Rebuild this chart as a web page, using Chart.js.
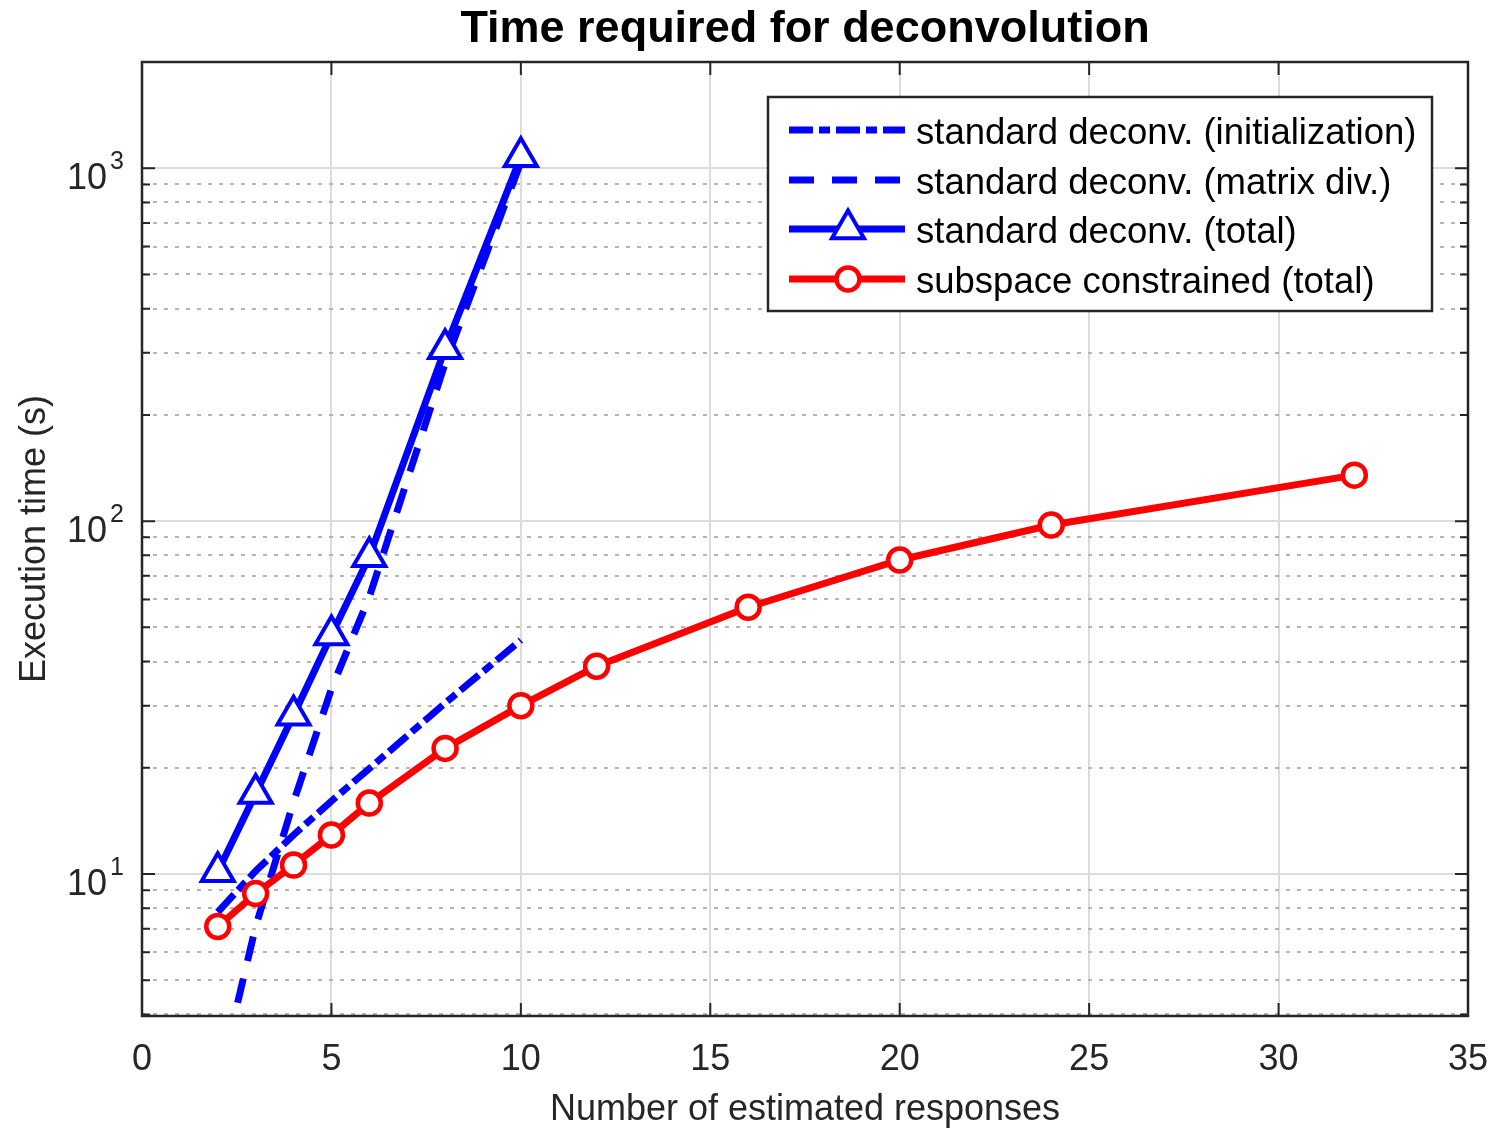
<!DOCTYPE html>
<html>
<head>
<meta charset="utf-8">
<title>Time required for deconvolution</title>
<script src="https://cdn.jsdelivr.net/npm/chart.js@4.4.1/dist/chart.umd.min.js"></script>
<style>
  html, body { margin: 0; padding: 0; background: #fff; }
  #wrap { width: 1497px; height: 1128px; }
</style>
</head>
<body>
<div id="wrap"><canvas id="chart" width="1497" height="1128"></canvas></div>
<script>
// ============================
// Data
// ============================
const stdX      = [2, 3, 4, 5, 6, 8, 10];
const stdInit   = [7.8, 10.2, 12.9, 16.1, 19.9, 30.5, 46];
const stdMatrix = [2.5, 7.1, 16, 33.5, 61, 280, 1040];
const stdTotal  = [10.15, 16.9, 28.2, 47.6, 79.3, 308, 1077];

const subX     = [2, 3, 4, 5, 6, 8, 10, 12, 16, 20, 24, 32];
const subTotal = [7.1, 8.8, 10.6, 12.9, 15.9, 22.7, 30.0, 38.8, 57.0, 77.6, 97.5, 135];

const xTicks   = [0, 5, 10, 15, 20, 25, 30, 35];
const yDecades = [10, 100, 1000];
const yGrid    = [4, 5, 6, 7, 8, 9, 10, 20, 30, 40, 50, 60, 70, 80, 90,
                  100, 200, 300, 400, 500, 600, 700, 800, 900, 1000, 2000];

const legendLabels = [
    "standard deconv. (initialization)",
    "standard deconv. (matrix div.)",
    "standard deconv. (total)",
    "subspace constrained (total)"
];

const FONT = '"Liberation Sans", Arial, Helvetica, sans-serif';
const BLUE = "#0000ff", RED = "#ff0000", AXIS = "#262626";
const isMajor = v => Math.abs(Math.log10(v) - Math.round(Math.log10(v))) < 1e-9;
const pts = (xs, ys) => xs.map((x, i) => ({ x, y: ys[i] }));

// datasets: index 0 is drawn on top
const dsSub = {
    data: pts(subX, subTotal), borderColor: RED, borderWidth: 7,
    pointStyle: "circle", pointRadius: 11.5, pointBorderWidth: 4.5,
    pointBackgroundColor: "#fff", pointBorderColor: RED
};
const dsTotal = {
    data: pts(stdX, stdTotal), borderColor: BLUE, borderWidth: 7,
    pointStyle: "triangle", pointRadius: 18.5, pointBorderWidth: 4,
    pointBackgroundColor: "#fff", pointBorderColor: BLUE
};
const dsMatrix = {
    data: pts(stdX, stdMatrix), borderColor: BLUE, borderWidth: 7,
    borderDash: [25, 18], pointRadius: 0
};
const dsInit = {
    data: pts(stdX, stdInit), borderColor: BLUE, borderWidth: 7,
    borderDash: [24, 6, 11, 6], pointRadius: 0
};
const legendSets = [dsInit, dsMatrix, dsTotal, dsSub];

// ============================
// MATLAB-like box, ticks, labels, legend
// ============================
const matlabAxes = {
    id: "matlabAxes",
    afterDraw(chart) {
        const { ctx, chartArea: a, scales: { x, y } } = chart;
        ctx.save();

        // frame
        ctx.strokeStyle = AXIS; ctx.lineWidth = 2.5; ctx.setLineDash([]);
        ctx.strokeRect(a.left, a.top, a.right - a.left, a.bottom - a.top);

        // inward ticks
        ctx.lineWidth = 2;
        ctx.beginPath();
        xTicks.forEach(v => {
            const px = x.getPixelForValue(v);
            ctx.moveTo(px, a.bottom); ctx.lineTo(px, a.bottom - 13);
            ctx.moveTo(px, a.top); ctx.lineTo(px, a.top + 13);
        });
        yGrid.forEach(v => {
            const py = y.getPixelForValue(v);
            const len = isMajor(v) ? 13 : 8;
            ctx.moveTo(a.left, py); ctx.lineTo(a.left + len, py);
            ctx.moveTo(a.right, py); ctx.lineTo(a.right - len, py);
        });
        ctx.stroke();

        // y tick labels 10^n
        ctx.fillStyle = AXIS;
        yDecades.forEach(d => {
            const py = y.getPixelForValue(d);
            ctx.font = `36px ${FONT}`; ctx.textAlign = "right"; ctx.textBaseline = "alphabetic";
            ctx.fillText("10", 107, py + 21);
            ctx.font = `25px ${FONT}`; ctx.textAlign = "left";
            ctx.fillText(String(Math.round(Math.log10(d))), 110, py + 1);
        });

        // title
        ctx.fillStyle = "#000";
        ctx.font = `bold 45px ${FONT}`; ctx.textAlign = "center";
        ctx.fillText("Time required for deconvolution", (a.left + a.right) / 2, 42);

        // legend
        const L = { x: 768, y: 97, w: 664, h: 214 };
        ctx.fillStyle = "#fff";
        ctx.fillRect(L.x, L.y, L.w, L.h);
        ctx.strokeStyle = AXIS; ctx.lineWidth = 2.5;
        ctx.strokeRect(L.x, L.y, L.w, L.h);
        const rows = [130, 180, 229, 279];
        legendSets.forEach((ds, i) => {
            const ry = rows[i];
            ctx.strokeStyle = ds.borderColor; ctx.lineWidth = ds.borderWidth;
            ctx.setLineDash(ds.borderDash || []);
            ctx.beginPath(); ctx.moveTo(789, ry); ctx.lineTo(905, ry); ctx.stroke();
            ctx.setLineDash([]);
            if (ds.pointRadius) {
                ctx.fillStyle = ds.pointBackgroundColor;
                ctx.strokeStyle = ds.pointBorderColor;
                ctx.lineWidth = ds.pointBorderWidth;
                Chart.helpers.drawPoint(ctx, {
                    pointStyle: ds.pointStyle, radius: ds.pointRadius,
                    borderWidth: ds.pointBorderWidth, rotation: 0
                }, 848, ry);
            }
            ctx.fillStyle = "#000"; ctx.font = `36.5px ${FONT}`;
            ctx.textAlign = "left"; ctx.textBaseline = "alphabetic";
            ctx.fillText(legendLabels[i], 916, ry + 14);
        });

        ctx.restore();
    }
};

new Chart(document.getElementById("chart"), {
    type: "line",
    data: { datasets: [dsSub, dsTotal, dsMatrix, dsInit] },
    options: {
        responsive: false,
        animation: false,
        devicePixelRatio: 1,
        layout: { padding: { top: 62, right: 29, left: 0, bottom: 0 } },
        elements: { line: { tension: 0, fill: false }, point: { hoverRadius: 0 } },
        datasets: { line: { clip: 0 } },
        plugins: { legend: { display: false }, title: { display: false }, tooltip: { enabled: false } },
        scales: {
            x: {
                type: "linear", min: 0, max: 35,
                afterBuildTicks: s => { s.ticks = xTicks.map(v => ({ value: v })); },
                afterFit: s => { s.height = 112; s.paddingLeft = 0; s.paddingRight = 0; },
                ticks: { font: { family: FONT, size: 36 }, color: AXIS, padding: 22, autoSkip: false, maxRotation: 0 },
                grid: { color: "#dcdcdc", lineWidth: 2, drawTicks: false },
                border: { display: false },
                title: {
                    display: true, text: "Number of estimated responses",
                    font: { family: FONT, size: 36, lineHeight: 1 }, color: AXIS,
                    padding: { top: 0, bottom: 0 }
                }
            },
            y: {
                type: "logarithmic", min: 3.96, max: 2000,
                afterBuildTicks: s => { s.ticks = yGrid.map(v => ({ value: v, major: isMajor(v) })); },
                afterFit: s => { s.width = 142; s.paddingTop = 0; s.paddingBottom = 0; },
                ticks: { display: false },
                grid: {
                    drawTicks: false,
                    color: c => (c.tick && !isMajor(c.tick.value)) ? "#b5b5b5" : "#dcdcdc",
                    lineWidth: 2
                },
                border: {
                    display: false,
                    dash: c => (c.tick && !isMajor(c.tick.value)) ? [4, 7] : []
                },
                title: {
                    display: true, text: "Execution time (s)",
                    font: { family: FONT, size: 36, lineHeight: 1.2 }, color: AXIS,
                    padding: { top: 13, bottom: 0 }
                }
            }
        }
    },
    plugins: [matlabAxes]
});
</script>
</body>
</html>
